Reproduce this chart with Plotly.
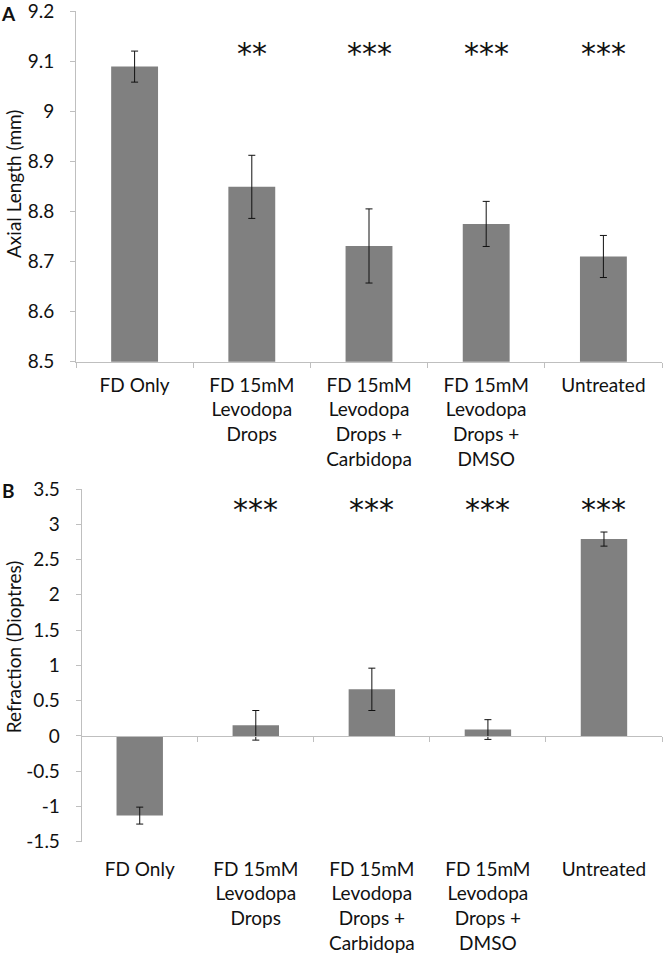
import plotly.graph_objects as go

# ---- data ----
categories = ["FD Only", "FD 15mM<br>Levodopa<br>Drops", "FD 15mM<br>Levodopa<br>Drops +<br>Carbidopa",
              "FD 15mM<br>Levodopa<br>Drops +<br>DMSO", "Untreated"]
axial_length = [9.089, 8.849, 8.731, 8.775, 8.710]
axial_err = [0.031, 0.063, 0.074, 0.045, 0.042]
axial_sig = ["", "**", "***", "***", "***"]

refraction = [-1.13, 0.15, 0.66, 0.09, 2.79]
refraction_err = [0.12, 0.21, 0.30, 0.14, 0.10]
refraction_sig = ["", "***", "***", "***", "***"]

axial_ticks = [8.5, 8.6, 8.7, 8.8, 8.9, 9.0, 9.1, 9.2]
axial_ticktext = ["8.5", "8.6", "8.7", "8.8", "8.9", "9", "9.1", "9.2"]
refr_ticks = [-1.5, -1.0, -0.5, 0.0, 0.5, 1.0, 1.5, 2.0, 2.5, 3.0, 3.5]
refr_ticktext = ["-1.5", "-1", "-0.5", "0", "0.5", "1", "1.5", "2", "2.5", "3", "3.5"]

# ---- style ----
W, H = 663, 958
FONT = "Lato"
TXT = "#111111"
BAR = "#808080"
AX = "#bfbfbf"
TICK_FS = 19

top_x = [76 / W, 662 / W]
top_y = [1 - 361.7 / H, 1 - 11 / H]
bot_x = [81.7 / W, 662 / W]
bot_y = [1 - 841.7 / H, 1 - 489 / H]
refr_range = [-1.5, 3.5]
zero_pos = bot_y[0] + (0 - refr_range[0]) / (refr_range[1] - refr_range[0]) * (bot_y[1] - bot_y[0])

fig = go.Figure()

err_style = dict(type="data", color="#111111", thickness=1, width=3.5)

fig.add_trace(go.Bar(x=categories, y=axial_length, marker_color=BAR, marker_line_width=0,
                     error_y=dict(array=axial_err, **err_style), xaxis="x", yaxis="y",
                     showlegend=False))
fig.add_trace(go.Bar(x=categories, y=refraction, marker_color=BAR, marker_line_width=0,
                     error_y=dict(array=refraction_err, **err_style), xaxis="x2", yaxis="y2",
                     showlegend=False))
# invisible helper trace so the zero-line axis is drawn
fig.add_trace(go.Scatter(x=categories, y=refraction, mode="markers", marker_opacity=0,
                         hoverinfo="skip", xaxis="x3", yaxis="y2", showlegend=False))

tickfont = dict(family=FONT, size=TICK_FS, color=TXT)

fig.update_layout(
    width=W, height=H,
    margin=dict(l=0, r=0, t=0, b=0),
    paper_bgcolor="white", plot_bgcolor="white",
    bargap=0.6,
    font=dict(family=FONT, color=TXT),
    xaxis=dict(domain=top_x, anchor="y", type="category", categoryarray=categories,
               showline=True, linecolor=AX, linewidth=1, ticks="outside", ticklen=5,
               tickcolor=AX, tickson="boundaries", showgrid=False, tickfont=tickfont,
               automargin=False, ticklabelstandoff=6),
    yaxis=dict(domain=top_y, anchor="x", range=[8.5, 9.2], tickvals=axial_ticks,
               ticktext=axial_ticktext, showline=True, linecolor=AX, linewidth=1,
               ticks="outside", ticklen=5, tickcolor=AX, showgrid=False, zeroline=False,
               tickfont=tickfont, automargin=False, ticklabelstandoff=12,
               ticklabeloverflow="allow"),
    xaxis2=dict(domain=bot_x, anchor="y2", type="category", categoryarray=categories,
                showline=False, ticks="", showgrid=False, tickfont=tickfont,
                automargin=False, ticklabelstandoff=14),
    xaxis3=dict(domain=bot_x, anchor="free", position=zero_pos, overlaying="x2",
                type="category", categoryarray=categories, range=[-0.5, 4.5],
                showline=True, linecolor=AX, linewidth=1, ticks="outside", ticklen=5,
                tickcolor=AX, tickson="boundaries", showgrid=False, showticklabels=False),
    yaxis2=dict(domain=bot_y, anchor="x2", range=refr_range, tickvals=refr_ticks,
                ticktext=refr_ticktext, showline=True, linecolor=AX, linewidth=1,
                ticks="outside", ticklen=5, tickcolor=AX, showgrid=False, zeroline=False,
                tickfont=tickfont, automargin=False, ticklabelstandoff=12,
                ticklabeloverflow="allow"),
)

STAR_FONT = dict(family="DejaVu Sans", size=30, color=TXT)
annotations = []
for cat, s in zip(categories, axial_sig):
    if s:
        annotations.append(dict(x=cat, y=0.878, xref="x", yref="y domain", text=s,
                                showarrow=False, xanchor="center", yanchor="middle", font=STAR_FONT))
for cat, s in zip(categories, refraction_sig):
    if s:
        annotations.append(dict(x=cat, xref="x2", y=0.941, yref="y2 domain", text=s,
                                showarrow=False, xanchor="center", yanchor="middle", font=STAR_FONT))

annotations += [
    dict(text="Axial Length (mm)", textangle=-90, x=13.5 / W, y=1 - 184.5 / H, xref="paper",
         yref="paper", xanchor="center", yanchor="middle", showarrow=False,
         font=dict(family=FONT, size=19, color=TXT)),
    dict(text="Refraction (Dioptres)", textangle=-90, x=13.5 / W, y=1 - 646.7 / H, xref="paper",
         yref="paper", xanchor="center", yanchor="middle", showarrow=False,
         font=dict(family=FONT, size=19, color=TXT)),
    dict(text="<b>A</b>", x=8.5 / W, y=1 - 13.5 / H, xref="paper", yref="paper",
         xanchor="center", yanchor="middle", showarrow=False,
         font=dict(family=FONT, size=19, color=TXT)),
    dict(text="<b>B</b>", x=8.5 / W, y=1 - 490 / H, xref="paper", yref="paper",
         xanchor="center", yanchor="middle", showarrow=False,
         font=dict(family=FONT, size=19, color=TXT)),
]
fig.update_layout(annotations=annotations)

fig.write_html("out.html", config={"displayModeBar": False},
               post_script="document.body.style.margin='0';")
